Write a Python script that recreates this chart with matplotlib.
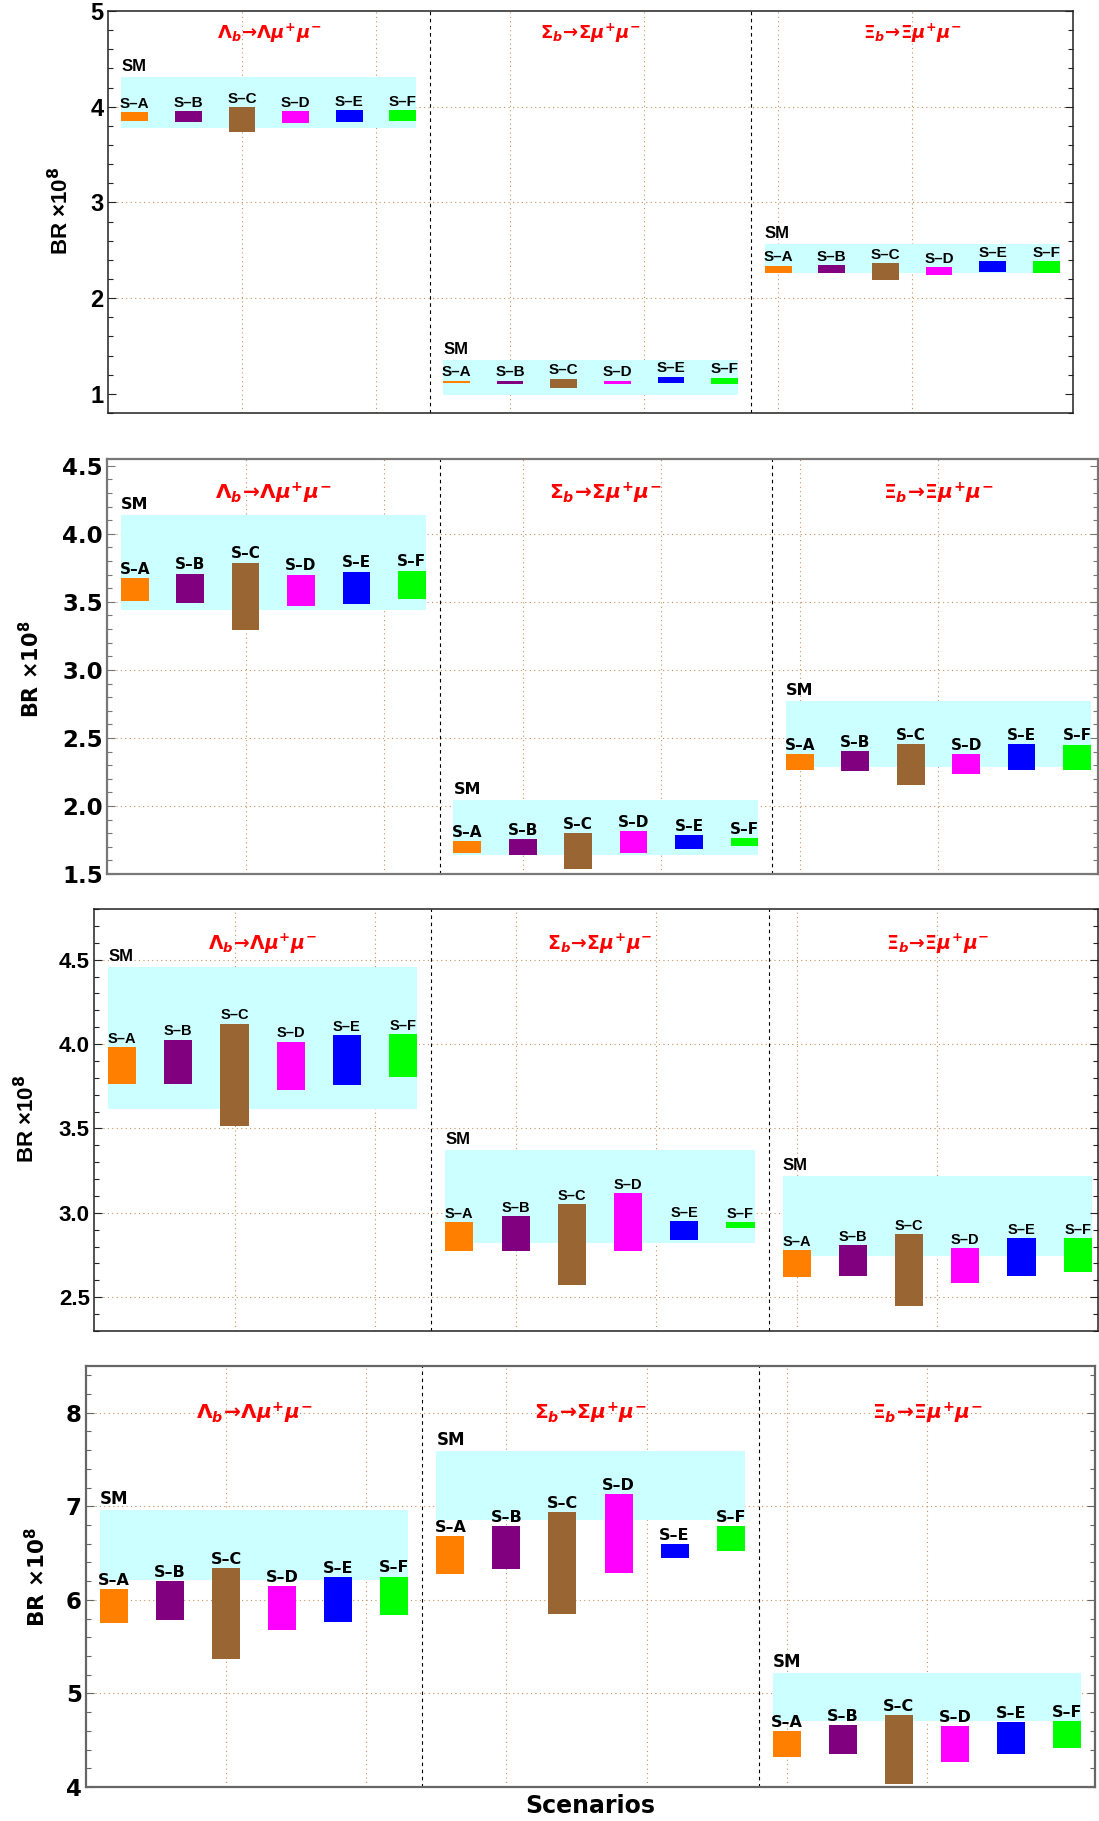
import matplotlib.pyplot as plt
import matplotlib.ticker as mticker
import numpy as np

W, H = 1099, 1821

plt.rcParams['mathtext.fontset'] = 'custom'
plt.rcParams['mathtext.rm'] = 'DejaVu Sans:bold'
plt.rcParams['mathtext.it'] = 'DejaVu Sans:italic:bold'
plt.rcParams['mathtext.bf'] = 'DejaVu Sans:bold'

scenarios = ['S–A', 'S–B', 'S–C', 'S–D', 'S–E', 'S–F']
scen_colors = ['#FF7F00', '#800080', '#996633', '#FF00FF', '#0000FF', '#00FF00']
decays = [r'$\Lambda_b\!\rightarrow\!\Lambda\mu^{+}\mu^{-}$',
          r'$\Sigma_b\!\rightarrow\!\Sigma\mu^{+}\mu^{-}$',
          r'$\Xi_b\!\rightarrow\!\Xi\mu^{+}\mu^{-}$']

# panel 1
p1_lam_lo = [3.854, 3.844, 3.740, 3.833, 3.844, 3.854]
p1_lam_hi = [3.945, 3.956, 3.994, 3.956, 3.966, 3.966]
p1_sig_lo = [1.112, 1.101, 1.066, 1.101, 1.111, 1.101]
p1_sig_hi = [1.136, 1.136, 1.157, 1.136, 1.178, 1.167]
p1_xi_lo = [2.267, 2.267, 2.190, 2.243, 2.274, 2.267]
p1_xi_hi = [2.340, 2.347, 2.368, 2.326, 2.389, 2.389]
p1_sm_lo = [3.781, 0.990, 2.267]
p1_sm_hi = [4.308, 1.355, 2.567]

# panel 2
p2_lam_lo = [3.507, 3.493, 3.294, 3.471, 3.485, 3.522]
p2_lam_hi = [3.676, 3.706, 3.787, 3.699, 3.721, 3.728]
p2_sig_lo = [1.657, 1.640, 1.537, 1.657, 1.684, 1.706]
p2_sig_hi = [1.743, 1.757, 1.800, 1.816, 1.787, 1.762]
p2_xi_lo = [2.265, 2.257, 2.154, 2.235, 2.265, 2.265]
p2_xi_hi = [2.382, 2.404, 2.456, 2.382, 2.456, 2.449]
p2_sm_lo = [3.441, 1.640, 2.287]
p2_sm_hi = [4.140, 2.044, 2.772]

# panel 3
p3_lam_lo = [3.765, 3.765, 3.515, 3.730, 3.759, 3.807]
p3_lam_hi = [3.983, 4.025, 4.120, 4.013, 4.054, 4.060]
p3_sig_lo = [2.773, 2.773, 2.571, 2.773, 2.838, 2.912]
p3_sig_hi = [2.943, 2.979, 3.050, 3.115, 2.949, 2.943]
p3_xi_lo = [2.618, 2.624, 2.446, 2.583, 2.624, 2.648]
p3_xi_hi = [2.777, 2.807, 2.872, 2.789, 2.848, 2.848]
p3_sm_lo = [3.615, 2.820, 2.743]
p3_sm_hi = [4.458, 3.371, 3.217]

# panel 4
p4_lam_lo = [5.752, 5.781, 5.368, 5.678, 5.763, 5.838]
p4_lam_hi = [6.112, 6.198, 6.337, 6.144, 6.240, 6.250]
p4_sig_lo = [6.276, 6.329, 5.848, 6.286, 6.447, 6.521]
p4_sig_hi = [6.678, 6.785, 6.935, 7.127, 6.594, 6.785]
p4_xi_lo = [4.320, 4.353, 4.032, 4.267, 4.353, 4.417]
p4_xi_hi = [4.595, 4.659, 4.766, 4.648, 4.690, 4.702]
p4_sm_lo = [6.212, 6.849, 4.705]
p4_sm_hi = [6.956, 7.587, 5.215]

# layout: pixel box (left, top, right, bottom), axis limits, fonts
panels = [
    dict(lo=[p1_lam_lo, p1_sig_lo, p1_xi_lo], hi=[p1_lam_hi, p1_sig_hi, p1_xi_hi],
         sm_lo=p1_sm_lo, sm_hi=p1_sm_hi, box=(108, 11, 1073, 413),
         xlim=(0.5, 18.5), ylim=(0.8, 5.0), major=1.0, minor=0.2, fmt='%d',
         grid_y=[2, 3, 4], title_y=4.77, font='Liberation Sans', spine='#222222', slw=1.1,
         tick_fs=17, lab_fs=11, sm_fs=12, title_fs=13, ylab=(61, 211), ylab_fs=16),
    dict(lo=[p2_lam_lo, p2_sig_lo, p2_xi_lo], hi=[p2_lam_hi, p2_sig_hi, p2_xi_hi],
         sm_lo=p2_sm_lo, sm_hi=p2_sm_hi, box=(107, 459, 1098, 874),
         xlim=(0.5, 18.38), ylim=(1.5, 4.55), major=0.5, minor=0.1, fmt='%.1f',
         grid_y=[2.0, 2.5, 3.0, 3.5, 4.0], title_y=4.30, font='DejaVu Sans', spine='#777777', slw=1.6,
         tick_fs=16.5, lab_fs=11, sm_fs=11.5, title_fs=14.5, ylab=(31, 669), ylab_fs=15),
    dict(lo=[p3_lam_lo, p3_sig_lo, p3_xi_lo], hi=[p3_lam_hi, p3_sig_hi, p3_xi_hi],
         sm_lo=p3_sm_lo, sm_hi=p3_sm_hi, box=(94, 909, 1098, 1331),
         xlim=(0.5, 18.36), ylim=(2.3, 4.8), major=0.5, minor=0.1, fmt='%.1f',
         grid_y=[2.5, 3.0, 3.5, 4.0, 4.5], title_y=4.595, font='Liberation Sans', spine='#222222', slw=1.1,
         tick_fs=16, lab_fs=10.5, sm_fs=12, title_fs=13.5, ylab=(27, 1119), ylab_fs=16),
    dict(lo=[p4_lam_lo, p4_sig_lo, p4_xi_lo], hi=[p4_lam_hi, p4_sig_hi, p4_xi_hi],
         sm_lo=p4_sm_lo, sm_hi=p4_sm_hi, box=(86, 1366, 1095, 1787),
         xlim=(0.5, 18.5), ylim=(4.0, 8.5), major=1.0, minor=0.2, fmt='%d',
         grid_y=[5, 6, 7, 8], title_y=7.99, font='DejaVu Sans', spine='#666666', slw=1.6,
         tick_fs=16.5, lab_fs=11.5, sm_fs=12, title_fs=14.5, ylab=(37, 1577), ylab_fs=15.5),
]

grid_x = [3, 5.5, 8, 10.5, 13, 15.5]
grid_color = '#c8925e'

fig = plt.figure(figsize=(W / 100, H / 100), dpi=100)

for cfg in panels:
    l, t, r, b = cfg['box']
    ax = fig.add_axes([l / W, 1 - b / H, (r - l) / W, (b - t) / H])
    fam = cfg['font']

    for xv in grid_x:
        ax.axvline(xv, color=grid_color, lw=0.8, ls=(0, (1, 3)), zorder=0)
    for yv in cfg['grid_y']:
        ax.axhline(yv, color=grid_color, lw=0.8, ls=(0, (1, 3)), zorder=0)

    for g in range(3):
        xs = np.arange(6) + 6 * g + 1
        lo = np.array(cfg['lo'][g])
        hi = np.array(cfg['hi'][g])
        # SM band
        ax.bar(6 * g + 3.5, cfg['sm_hi'][g] - cfg['sm_lo'][g], bottom=cfg['sm_lo'][g],
               width=5.5, color='#CCFFFF', zorder=1)
        ax.annotate('SM', (6 * g + 0.75, cfg['sm_hi'][g]), xytext=(0, 2), textcoords='offset points',
                    ha='left', va='bottom', fontsize=cfg['sm_fs'], fontweight='bold', family=fam)
        # scenario bars
        ax.bar(xs, hi - lo, bottom=lo, width=0.5, color=scen_colors, zorder=2)
        for x, top, name in zip(xs, hi, scenarios):
            ax.annotate(name, (x, top), xytext=(0, 1), textcoords='offset points',
                        ha='center', va='bottom', fontsize=cfg['lab_fs'], fontweight='bold',
                        family=fam, zorder=3)
        ax.text(6 * g + 3.5, cfg['title_y'], decays[g], color='red', ha='center', va='center',
                fontsize=cfg['title_fs'], zorder=3)

    for xv in [6.5, 12.5]:
        ax.axvline(xv, color='black', lw=0.8, ls=(0, (3.2, 3.2)), zorder=1.5)

    ax.set_xlim(*cfg['xlim'])
    ax.set_ylim(*cfg['ylim'])
    ax.yaxis.set_major_locator(mticker.MultipleLocator(cfg['major']))
    ax.yaxis.set_minor_locator(mticker.MultipleLocator(cfg['minor']))
    ax.yaxis.set_major_formatter(mticker.FormatStrFormatter(cfg['fmt']))
    ax.tick_params(axis='x', which='both', bottom=False, labelbottom=False)
    ax.tick_params(axis='y', which='both', direction='in', left=True, right=True,
                   colors=cfg['spine'], labelcolor='black', width=0.8, pad=3)
    ax.tick_params(axis='y', which='major', length=5.5, labelsize=cfg['tick_fs'])
    ax.tick_params(axis='y', which='minor', length=3.5)
    for lbl in ax.get_yticklabels():
        lbl.set_fontfamily(fam)
        lbl.set_fontweight('bold')
    for sp in ax.spines.values():
        sp.set_color(cfg['spine'])
        sp.set_linewidth(cfg['slw'])

    xl, yl = cfg['ylab']
    fig.text(xl / W, 1 - yl / H, 'BR ×10$^{8}$', rotation=90, ha='center', va='center',
             fontsize=cfg['ylab_fs'], fontweight='bold', family=fam)

fig.text(590 / W, 1 - 1806 / H, 'Scenarios', ha='center', va='center',
         fontsize=17, fontweight='bold', family='DejaVu Sans')

fig.savefig('out.png', dpi=100)
